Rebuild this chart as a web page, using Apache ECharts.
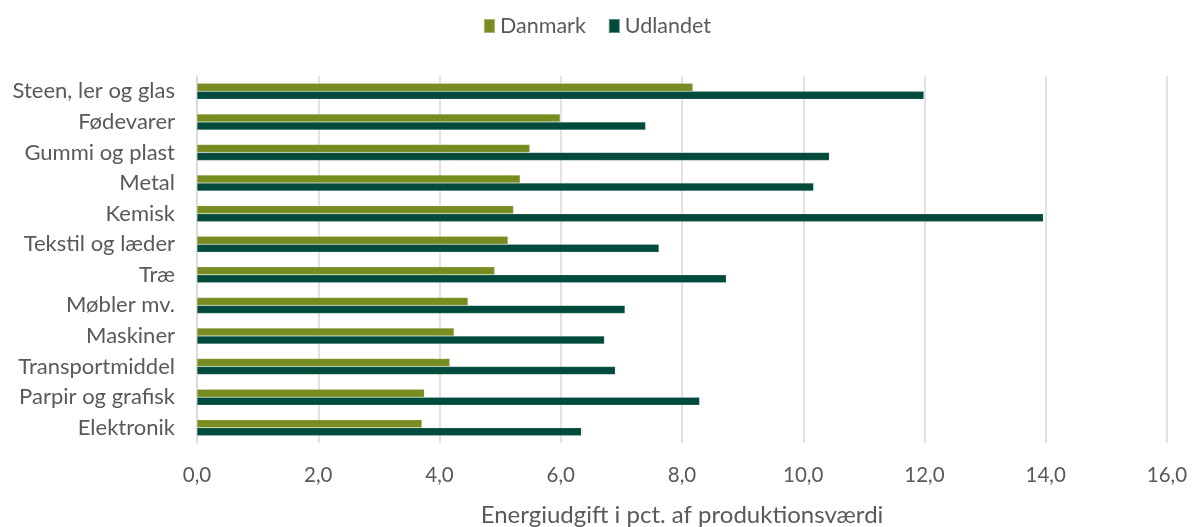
<!DOCTYPE html>
<html>
<head>
<meta charset="utf-8">
<script src="https://cdn.jsdelivr.net/npm/echarts@6/dist/echarts.min.js"></script>
<style>
  html, body { margin: 0; padding: 0; background: #fff; }
  #chart { width: 1194px; height: 527px; }
</style>
</head>
<body>
<div id="chart"></div>
<script>
  'use strict';
  // brancher, fra top til bund
  var categories = [
    'Steen, ler og glas', 'Fødevarer', 'Gummi og plast', 'Metal', 'Kemisk',
    'Tekstil og læder', 'Træ', 'Møbler mv.', 'Maskiner', 'Transportmiddel',
    'Parpir og grafisk', 'Elektronik'
  ];
  var danmark = [8.18, 5.99, 5.49, 5.33, 5.22, 5.13, 4.91, 4.47, 4.24, 4.17, 3.75, 3.71];
  var udlandet = [11.99, 7.40, 10.43, 10.17, 13.96, 7.62, 8.73, 7.06, 6.72, 6.90, 8.29, 6.34];
  var axisName = 'Energiudgift i pct. af produktionsværdi';

  var font = 'Lato, "Open Sans", sans-serif';
  var textColor = '#595959';

  var chart = echarts.init(document.getElementById('chart'));
  chart.setOption({
    animation: false,
    textStyle: { fontFamily: font, color: textColor },
    legend: {
      top: 10,
      left: 'center',
      icon: 'rect',
      itemWidth: 11,
      itemHeight: 14,
      itemGap: 22,
      textStyle: { fontFamily: font, fontSize: 21.5, color: textColor }
    },
    grid: { left: 197, right: 27, top: 76, bottom: 84, outerBoundsMode: 'none' },
    xAxis: {
      type: 'value',
      min: 0,
      max: 16,
      interval: 2,
      name: axisName,
      nameLocation: 'middle',
      nameGap: 60,
      nameTextStyle: { fontFamily: font, fontSize: 24, color: textColor },
      axisLine: { show: false },
      axisTick: { show: false },
      axisLabel: {
        margin: 22,
        fontFamily: font,
        fontSize: 20.5,
        color: textColor,
        formatter: function(v) { return v.toFixed(1).replace('.', ','); }
      },
      splitLine: { lineStyle: { color: '#D9D9D9', width: 1.5 } }
    },
    yAxis: {
      type: 'category',
      inverse: true,
      data: categories,
      axisLine: { lineStyle: { color: '#D9D9D9', width: 1.5 } },
      axisTick: { show: false },
      axisLabel: { margin: 22, fontFamily: font, fontSize: 22, color: textColor }
    },
    series: [
      {
        name: 'Danmark',
        type: 'bar',
        data: danmark,
        barWidth: 8,
        barGap: '0%',
        itemStyle: { color: '#778D21', borderColor: 'rgba(255,255,255,0.35)', borderWidth: 0.5 }
      },
      {
        name: 'Udlandet',
        type: 'bar',
        data: udlandet,
        barWidth: 8,
        itemStyle: { color: '#024A3B', borderColor: 'rgba(255,255,255,0.35)', borderWidth: 0.5 }
      }
    ]
  });
</script>
</body>
</html>
